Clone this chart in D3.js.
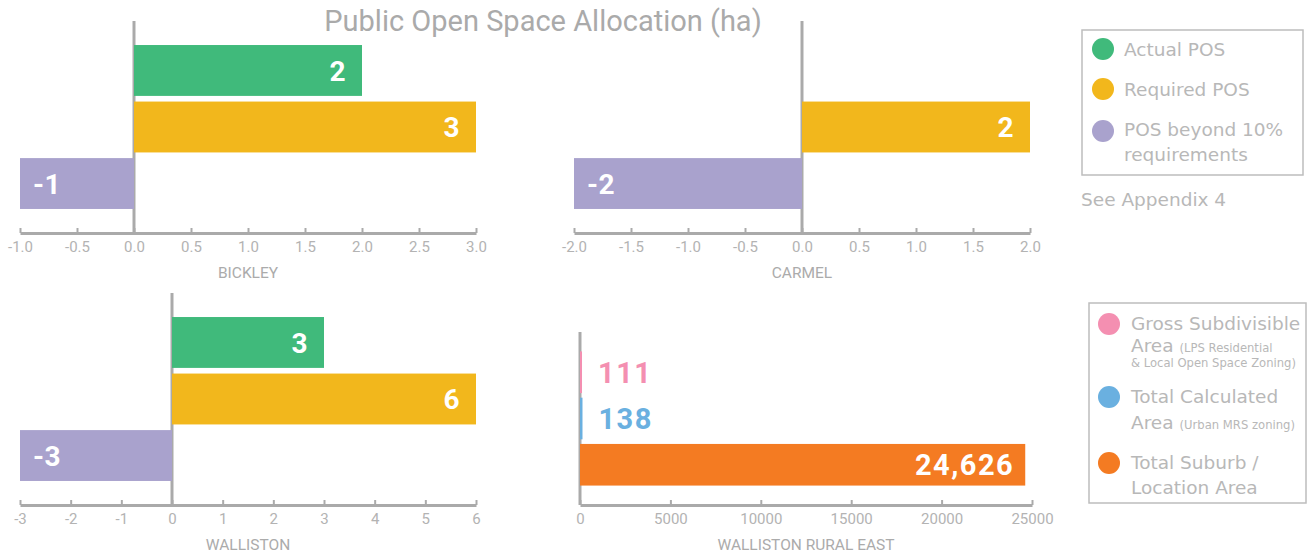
<!DOCTYPE html>
<html>
<head>
<meta charset="utf-8">
<script src="https://cdn.jsdelivr.net/npm/d3@7"></script>
<style>
  html, body { margin: 0; padding: 0; background: #fff; }
  svg { display: block; }
  .tick text { font-family: Roboto, sans-serif; font-size: 15px; fill: #b3b3b3; }
  .axis-title { font-family: Roboto, sans-serif; font-size: 15.5px; fill: #ababab; }
  .legend text { font-family: "DejaVu Sans", sans-serif; fill: #b8b8b8; }
</style>
</head>
<body>
<svg id="chart" width="1309" height="556"></svg>
<script>
// Public open space allocation per suburb (ha)
const posSeries = ["Actual POS", "Required POS", "POS beyond 10% requirements"];
const posColors = ["#40ba7b", "#f2b71c", "#a9a2cd"];

const bickleyValues = [2, 3, -1];
const carmelValues = [0, 2, -2];
const wallistonValues = [3, 6, -3];

const bickleyTicks = [-1.0, -0.5, 0.0, 0.5, 1.0, 1.5, 2.0, 2.5, 3.0];
const carmelTicks = [-2.0, -1.5, -1.0, -0.5, 0.0, 0.5, 1.0, 1.5, 2.0];
const wallistonTicks = [-3, -2, -1, 0, 1, 2, 3, 4, 5, 6];

// Walliston Rural East areas
const areaSeries = ["Gross Subdivisible Area", "Total Calculated Area", "Total Suburb / Location Area"];
const areaColors = ["#f48fb1", "#6ab0e0", "#f47b22"];
const wreValues = [111, 138, 24626];
const wreTicks = [0, 5000, 10000, 15000, 20000, 25000];

// plain hyphen for negatives
const hyphen = f => v => f(v).replace("\u2212", "-");

const svg = d3.select("#chart");

svg.append("text")
  .attr("x", 543).attr("y", 31)
  .attr("text-anchor", "middle")
  .style("font-family", "Roboto, sans-serif")
  .style("font-size", "29px")
  .style("fill", "#aaaaaa")
  .text("Public Open Space Allocation (ha)");

function panel(opts) {
  const { values, colors, cats, domain, ticks, fmt, x0, x1, top, axisY, title,
          barPadOuter, labelSize, outsideLabels } = opts;
  const g = svg.append("g");
  const x = d3.scaleLinear().domain(domain).range([x0, x1]);
  const y = d3.scaleBand().domain(cats).range([top, axisY])
    .paddingInner(0.1).paddingOuter(barPadOuter);
  const rows = values.map((v, i) => ({ v, cat: cats[i], color: colors[i] }));

  // zero reference line
  g.append("line")
    .attr("x1", x(0)).attr("x2", x(0))
    .attr("y1", top).attr("y2", axisY)
    .attr("stroke", "#aaaaaa").attr("stroke-width", 3);

  // bars
  g.selectAll("rect.bar").data(rows).join("rect")
    .attr("class", "bar")
    .attr("x", d => Math.min(x(0), x(d.v)))
    .attr("width", d => Math.abs(x(d.v) - x(0)))
    .attr("y", d => y(d.cat))
    .attr("height", y.bandwidth())
    .attr("fill", d => d.color);

  // value labels
  g.selectAll("text.val").data(rows.filter(d => d.v !== 0)).join("text")
    .attr("class", "val")
    .each(function(d) {
      const t = d3.select(this);
      const w = Math.abs(x(d.v) - x(0));
      const cy = y(d.cat) + y.bandwidth() / 2;
      t.attr("y", cy).attr("dy", "0.36em")
        .style("font-family", "Roboto, sans-serif")
        .style("font-weight", "700")
        .style("font-size", labelSize + "px")
        .style("letter-spacing", outsideLabels ? "1.5px" : "0.5px")
        .text(hyphen(d3.format(","))(d.v));
      if (outsideLabels && w < 80) {
        t.attr("x", x(d.v) + 16).attr("text-anchor", "start").style("fill", d.color);
      } else if (outsideLabels) {
        t.attr("x", x(d.v) - 11).attr("text-anchor", "end").style("fill", "#fff");
      } else if (d.v > 0) {
        t.attr("x", x(d.v) - 16).attr("text-anchor", "end").style("fill", "#fff");
      } else {
        t.attr("x", x(d.v) + 13).attr("text-anchor", "start").style("fill", "#fff");
      }
    });

  // axis
  const axis = d3.axisBottom(x).tickValues(ticks).tickFormat(hyphen(fmt))
    .tickSizeInner(-5).tickSizeOuter(0).tickPadding(8);
  const ag = g.append("g").attr("transform", `translate(0,${axisY})`).call(axis);
  ag.select(".domain").attr("stroke", "#aaaaaa").attr("stroke-width", 3);
  ag.selectAll(".tick line").attr("stroke", "#aaaaaa").attr("stroke-width", 2);

  g.append("text").attr("class", "axis-title")
    .attr("x", (x0 + x1) / 2).attr("y", axisY + 45)
    .attr("text-anchor", "middle")
    .text(title);
}

panel({ values: bickleyValues, colors: posColors, cats: posSeries, domain: [-1, 3],
  ticks: bickleyTicks, fmt: d3.format(".1f"), x0: 20, x1: 476, top: 21, axisY: 233,
  title: "BICKLEY", barPadOuter: 0.425, labelSize: 28 });
panel({ values: carmelValues, colors: posColors, cats: posSeries, domain: [-2, 2],
  ticks: carmelTicks, fmt: d3.format(".1f"), x0: 574, x1: 1030, top: 21, axisY: 233,
  title: "CARMEL", barPadOuter: 0.425, labelSize: 28 });
panel({ values: wallistonValues, colors: posColors, cats: posSeries, domain: [-3, 6],
  ticks: wallistonTicks, fmt: d3.format("d"), x0: 20, x1: 476, top: 293, axisY: 505,
  title: "WALLISTON", barPadOuter: 0.425, labelSize: 28 });
panel({ values: wreValues, colors: areaColors, cats: areaSeries, domain: [0, 25000],
  ticks: wreTicks, fmt: d3.format("d"), x0: 580, x1: 1032, top: 332, axisY: 505,
  title: "WALLISTON RURAL EAST", barPadOuter: 0.42, labelSize: 29, outsideLabels: true });

// legends
const leg1 = svg.append("g").attr("class", "legend");
leg1.append("rect").attr("x", 1082).attr("y", 30).attr("width", 221).attr("height", 145)
  .attr("fill", "none").attr("stroke", "#bdbdbd").attr("stroke-width", 1.5);
const leg1Rows = [
  { cy: 49, lines: [{ t: posSeries[0], y: 56 }] },
  { cy: 89, lines: [{ t: posSeries[1], y: 96 }] },
  { cy: 131, lines: [{ t: "POS beyond 10%", y: 136 }, { t: "requirements", y: 161 }] }
];
leg1Rows.forEach((r, i) => {
  leg1.append("circle").attr("cx", 1103).attr("cy", r.cy).attr("r", 11).attr("fill", posColors[i]);
  r.lines.forEach(l => leg1.append("text").attr("x", 1124).attr("y", l.y)
    .style("font-size", "18.5px").text(l.t));
});
leg1.append("text").attr("x", 1081).attr("y", 206).style("font-size", "18.5px").text("See Appendix 4");

const leg2 = svg.append("g").attr("class", "legend");
leg2.append("rect").attr("x", 1089).attr("y", 303).attr("width", 217).attr("height", 200)
  .attr("fill", "none").attr("stroke", "#bdbdbd").attr("stroke-width", 1.5);
const leg2Rows = [
  { cy: 324, lines: [
      { t: "Gross Subdivisible", y: 330, s: 18.5 },
      { t: "Area", y: 352, s: 18.5, small: "(LPS Residential" },
      { t: "& Local Open Space Zoning)", y: 367, s: 11.6 }] },
  { cy: 397, lines: [
      { t: "Total Calculated", y: 403, s: 18.5 },
      { t: "Area", y: 429, s: 18.5, small: "(Urban MRS zoning)" }] },
  { cy: 463, lines: [
      { t: "Total Suburb /", y: 469, s: 18.5 },
      { t: "Location Area", y: 494, s: 18.5 }] }
];
leg2Rows.forEach((r, i) => {
  leg2.append("circle").attr("cx", 1109).attr("cy", r.cy).attr("r", 11).attr("fill", areaColors[i]);
  r.lines.forEach(l => {
    const t = leg2.append("text").attr("x", 1131).attr("y", l.y).style("font-size", l.s + "px");
    t.append("tspan").text(l.t);
    if (l.small) t.append("tspan").attr("dx", 6).style("font-size", "11.6px").text(l.small);
  });
});
</script>
</body>
</html>
